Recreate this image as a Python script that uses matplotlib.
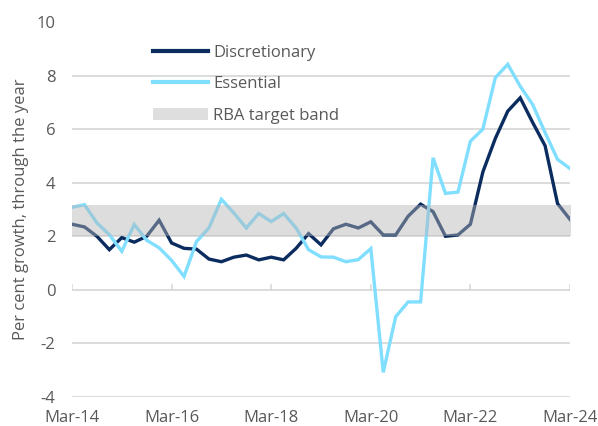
import numpy as np
import matplotlib
matplotlib.use("Agg")
import matplotlib.pyplot as plt
from matplotlib.patches import Patch
from matplotlib.lines import Line2D

plt.rcParams['font.family'] = ['Open Sans', 'DejaVu Sans']
plt.rcParams['axes.unicode_minus'] = False

# quarterly, Mar-14 .. Mar-24
quarters = list(range(41))
tick_pos = [0, 8, 16, 24, 32, 40]
tick_labels = ['Mar-14', 'Mar-16', 'Mar-18', 'Mar-20', 'Mar-22', 'Mar-24']

discretionary = [2.45, 2.35, 2.0, 1.5, 1.95, 1.78, 2.0, 2.6, 1.75, 1.55,
                 1.52, 1.15, 1.05, 1.22, 1.3, 1.12, 1.22, 1.12, 1.55, 2.1,
                 1.68, 2.28, 2.45, 2.31, 2.54, 2.05, 2.05, 2.75, 3.2, 2.92,
                 2.0, 2.05, 2.45, 4.4, 5.65, 6.67, 7.17, 6.25, 5.38, 3.22,
                 2.63]
essential = [3.08, 3.18, 2.5, 2.06, 1.44, 2.44, 1.85, 1.57, 1.1, 0.5,
             1.8, 2.31, 3.38, 2.87, 2.31, 2.85, 2.55, 2.85, 2.31, 1.5,
             1.23, 1.22, 1.05, 1.13, 1.54, -3.08, -1.0, -0.45, -0.45, 4.93,
             3.6, 3.65, 5.55, 6.0, 7.92, 8.42, 7.6, 6.92, 5.87, 4.87,
             4.53]
band_low, band_high = 2.0, 3.15

navy = '#0B2C5F'
light = '#80DEFF'
grid_c = '#D9D9D9'
text_c = '#595959'

fig = plt.figure(figsize=(5.98, 4.26), dpi=100)
ax = fig.add_axes([72/598, 1-397/426, (570-72)/598, (397-22)/426])

for y in range(-4, 10, 2):
    ax.axhline(y, color=grid_c, lw=1.3, zorder=0)

ax.plot(quarters, discretionary, color=navy, lw=2.4, zorder=2, solid_joinstyle='miter')
ax.plot(quarters, essential, color=light, lw=2.4, zorder=2, solid_joinstyle='miter')
ax.fill_between([0, 40.3], band_low, band_high, color='#B5B5B5', alpha=0.45,
                lw=0, zorder=3)

# small tick marks on the zero line
for t in tick_pos:
    ax.plot([t, t], [0, 0.18], color=grid_c, lw=1.2, zorder=1)

ax.set_xlim(0, 40)
ax.set_ylim(-4, 10)
ax.set_yticks(range(-4, 11, 2))
ax.set_xticks(tick_pos)
ax.set_xticklabels(tick_labels)
ax.tick_params(axis='both', length=0, labelsize=12, colors=text_c)
ax.tick_params(axis='y', pad=12)
ax.tick_params(axis='x', pad=9)
for s in ax.spines.values():
    s.set_visible(False)

ax.set_ylabel('Per cent growth, through the year', fontsize=12, color=text_c,
              labelpad=5)

handles = [Line2D([], [], color=navy, lw=3),
           Line2D([], [], color=light, lw=3),
           Patch(facecolor='#DEDEDE', edgecolor='none')]
ax.legend(handles, ['Discretionary', 'Essential', 'RBA target band'],
          loc='upper left', bbox_to_anchor=(153/598, 1-45/426),
          bbox_transform=fig.transFigure, frameon=False, fontsize=12,
          labelcolor=text_c, handlelength=3.3, handletextpad=0.3,
          labelspacing=0.92, borderpad=0, borderaxespad=0)

fig.savefig('out.png', dpi=100)
